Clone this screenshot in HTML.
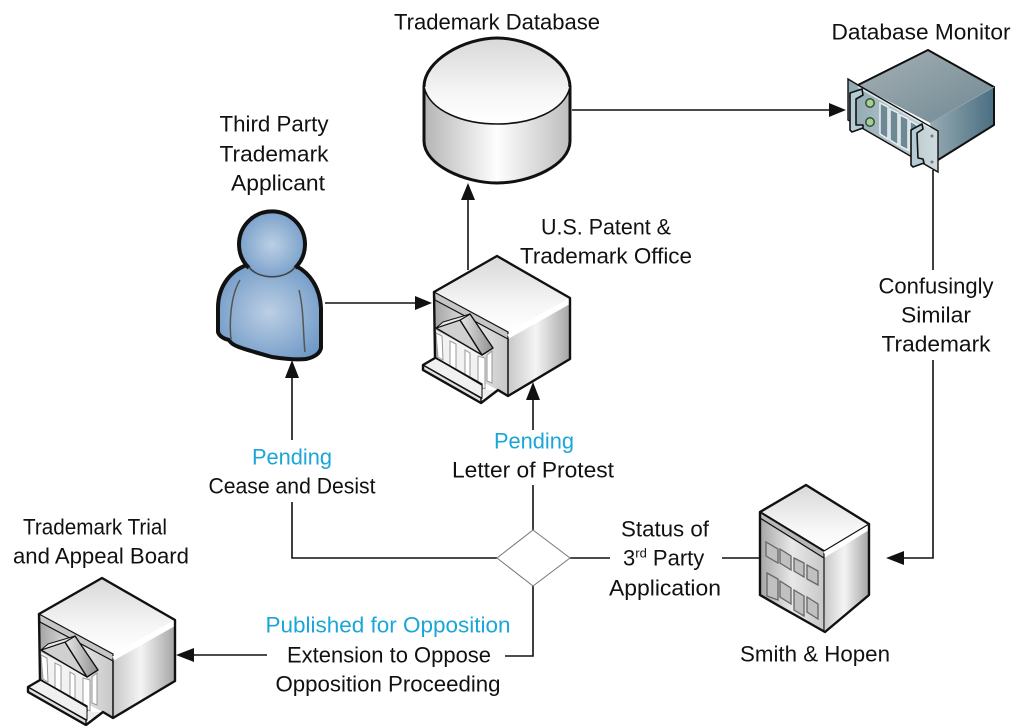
<!DOCTYPE html>
<html>
<head>
<meta charset="utf-8">
<style>
html,body{margin:0;padding:0;background:#fff;width:1024px;height:726px;overflow:hidden}
svg{display:block}
text{font-family:"Liberation Sans",sans-serif;font-size:22px;fill:#111;text-anchor:middle}
.c{fill:#1aa7d8}
</style>
</head>
<body>
<svg width="1024" height="726" viewBox="0 0 1024 726" xmlns="http://www.w3.org/2000/svg">
<defs>
<linearGradient id="top" x1="0" y1="0" x2="0" y2="1"><stop offset="0" stop-color="#d8d8d8"/><stop offset=".65" stop-color="#f6f6f6"/><stop offset="1" stop-color="#fff"/></linearGradient>
<linearGradient id="cyl" x1="0" y1="0" x2="1" y2="0"><stop offset="0" stop-color="#b4b4b4"/><stop offset=".5" stop-color="#fefefe"/><stop offset="1" stop-color="#bdbdbd"/></linearGradient>
<linearGradient id="side" x1="0" y1="0" x2="1" y2="0"><stop offset="0" stop-color="#c8c8c8"/><stop offset=".45" stop-color="#f4f4f4"/><stop offset="1" stop-color="#a4a4a4"/></linearGradient>
<linearGradient id="front" x1="0" y1="0" x2="1" y2="0"><stop offset="0" stop-color="#a6a6a6"/><stop offset=".5" stop-color="#e8e8e8"/><stop offset="1" stop-color="#c8c8c8"/></linearGradient>
<linearGradient id="roofR" x1="0" y1="0" x2="1" y2="0"><stop offset="0" stop-color="#e8e8e8"/><stop offset="1" stop-color="#8e8e8e"/></linearGradient>
<radialGradient id="blue" cx=".5" cy=".5" r=".62"><stop offset="0" stop-color="#bccfe4"/><stop offset="1" stop-color="#6c97c6"/></radialGradient>
<linearGradient id="srvTop" x1="0" y1="0" x2="1" y2="1"><stop offset="0" stop-color="#a6b1b4"/><stop offset="1" stop-color="#6f8894"/></linearGradient>
<linearGradient id="srvSide" x1="0" y1="0" x2="1" y2="0"><stop offset="0" stop-color="#9aadb4"/><stop offset="1" stop-color="#4a6e82"/></linearGradient>
<linearGradient id="srvFront" x1="0" y1="0" x2="1" y2="0"><stop offset="0" stop-color="#8fa7b0"/><stop offset="1" stop-color="#cfdbdf"/></linearGradient>
<g id="bank">
<path d="M497 256L570 298V359L508 396L498 390L481 403L423 370V365L435 358L434 292Z" fill="#fff"/>
<path d="M508 339L570 304V359L508 396Z" fill="url(#side)"/>
<path d="M435 300L508 339V396L498 390L435 358Z" fill="url(#front)"/>
<path d="M434 292L497 256L570 298L508 332Z" fill="url(#top)"/>
<path d="M434 292L508 332V339L435 300Z" fill="#c6c6c6" stroke="#111" stroke-width="1.2"/>
<path d="M508 336L570 302" stroke="#fff" stroke-width="3" fill="none"/>
<path d="M436 330L482 355L483 388L438 362Z" fill="#f2f2f2"/>
<path d="M436 333L438 357L443 360L442 336ZM450 341V367L456 370V344ZM465 350V376L470 379V353ZM478 356V386L485 389V358ZM487 355V381L492 383V351Z" fill="#fff" stroke="#999" stroke-width="1"/>
<path d="M436 358L482 384V390L435 362Z" fill="#ddd" stroke="#111" stroke-width="1.3"/>
<path d="M482 390L498 390L490 396L481 397Z" fill="#eee"/>
<path d="M423 365L435 358L482 384V398Z" fill="#f0f0f0" stroke="#111" stroke-width="1"/>
<path d="M423 365L481 398V403L423 370Z" fill="#e0e0e0" stroke="#111" stroke-width="1.5" stroke-linejoin="round"/>
<path d="M436 358L482 385" stroke="#111" stroke-width="1.5" fill="none"/>
<path d="M436 328L460 320L482 355Z" fill="#d0d0d0" stroke="#111" stroke-width="1.4" stroke-linejoin="round"/>
<path d="M460 320L470 314L493 348L482 355Z" fill="url(#roofR)" stroke="#111" stroke-width="1.4" stroke-linejoin="round"/>
<path d="M443 322L470 314L460 320L436 328Z" fill="#e8e8e8" stroke="#111" stroke-width="1"/>
<path d="M497 256L570 298V359L508 396L498 390L481 403L423 370V365L435 358L434 292Z" fill="none" stroke="#111" stroke-width="2.4" stroke-linejoin="round"/>
<path d="M508 339V396" fill="none" stroke="#111" stroke-width="1.5"/>
</g>
</defs>

<!-- connectors -->
<g stroke="#111" stroke-width="1.6" fill="none">
<path d="M572 110H840"/>
<path d="M933 170V270M933 360V558H900"/>
<path d="M325 303H420"/>
<path d="M468 270V195"/>
<path d="M292 375V440M292 502V558H497"/>
<path d="M533 395V430M533 485V530"/>
<path d="M570 558H610M722 558H760"/>
<path d="M533 586V656H505M267 655H190"/>
<path d="M533 530L570 558L533 586L497 558Z" fill="#fff" stroke="#777" stroke-width="1"/>
</g>
<g fill="#111">
<path d="M846 110L829 103V117Z"/>
<path d="M886 558L904 551V565Z"/>
<path d="M432 303L415 296V310Z"/>
<path d="M468 183L461 200H475Z"/>
<path d="M292 360L285 378H299Z"/>
<path d="M533 382L526 400H540Z"/>
<path d="M176 655L194 648V662Z"/>
</g>

<!-- cylinder -->
<path d="M424 87V141C424 165 465 183 497 183C530 183 570 165 570 141V87Z" fill="url(#cyl)" stroke="#111" stroke-width="3"/>
<path d="M424 87C430 112 465 124 497 124C530 124 564 112 570 87C570 60 530 38 497 38C465 38 424 60 424 87Z" fill="url(#top)"/>
<path d="M424 87C424 60 465 38 497 38C530 38 570 60 570 87" fill="none" stroke="#111" stroke-width="3"/>
<path d="M424 87C430 112 465 124 497 124C530 124 564 112 570 87" fill="none" stroke="#111" stroke-width="1.6"/>

<!-- server -->
<path d="M928 50L994 87V125L938 160L930 123Z" fill="url(#srvSide)"/>
<path d="M928 50L994 87L930 123L858 85Z" fill="url(#srvTop)"/>
<path d="M858 85L928 50L994 87V125L938 160" fill="none" stroke="#111" stroke-width="2"/>
<path d="M930 123L994 87" stroke="#90a4ac" stroke-width="1" fill="none"/>
<path d="M848 79L858 85L938 131V172L848 120Z" fill="url(#srvFront)" stroke="#111" stroke-width="1.4"/>
<path d="M858 87L930 128" stroke="#dde6e9" stroke-width="1.5" fill="none"/>
<circle cx="870" cy="103" r="4.2" fill="#a5d092" stroke="#33503a" stroke-width="1.5"/>
<circle cx="870" cy="122" r="4.2" fill="#a5d092" stroke="#33503a" stroke-width="1.5"/>
<g fill="#6e8894" stroke="#e8f0f3" stroke-width="1.5">
<path d="M880 103L888 107V139L880 134Z"/><path d="M890 109L898 113V145L890 140Z"/><path d="M900 115L908 119V150L900 146Z"/><path d="M910 121L917 125V154L910 151Z"/>
</g>
<circle cx="932" cy="136" r="1.5" fill="#778"/><circle cx="932" cy="162" r="1.5" fill="#778"/>
<path d="M850 93L862 89L863 95L856 99V125L863 125V128L852 132L850 130Z" fill="#b5cbd3" stroke="#111" stroke-width="1.6" stroke-linejoin="round"/>
<path d="M911 130L922 124L923 129L917 133L918 158L923 159L924 163L913 167L911 165Z" fill="#b5cbd3" stroke="#111" stroke-width="1.6" stroke-linejoin="round"/>

<!-- person -->
<path d="M247 265C232 270 218 285 218 308V332C219 336 224 339 229 340C232 346 240 348 272 357C285 359 297 360 306 359C315 357 320 353 321 348V308C320 288 310 273 296 266Z" fill="url(#blue)" stroke="#111" stroke-width="4" stroke-linejoin="round"/>
<circle cx="272" cy="245" r="33" fill="url(#blue)"/>
<path d="M249 268A33 33 0 1 1 295 268" fill="none" stroke="#111" stroke-width="4"/>
<path d="M249 267C258 280 286 280 295 267" fill="none" stroke="#444" stroke-width="1.6"/>
<path d="M240 280C231 295 229 320 231 340M299 290C304 310 303 335 305 352" fill="none" stroke="#555" stroke-width="1.5"/>

<!-- office building -->
<path d="M824 558L869 530V595L825 632Z" fill="url(#side)"/>
<path d="M760 516L824 556V632L760 595Z" fill="url(#front)"/>
<path d="M806 485L869 524L824 551L760 512Z" fill="url(#top)"/>
<path d="M760 512L824 551V558L760 518Z" fill="#b8b8b8" stroke="#111" stroke-width="1.2"/>
<path d="M824 553L869 526" stroke="#fff" stroke-width="3" fill="none"/>
<g fill="#c0c0c0" stroke="#666" stroke-width="1.3">
<path d="M766 542L778 549V563L766 556Z"/><path d="M780 549L791 556V570L780 563Z"/><path d="M794 558L804 563V577L794 571Z"/><path d="M807 565L818 571V585L807 579Z"/>
<path d="M767 573L778 579V600L767 596Z"/><path d="M780 581L791 588V604L780 597Z"/><path d="M794 590L804 596V616L794 610Z"/><path d="M807 597L818 604V619L807 612Z"/>
</g>
<path d="M806 485L869 524V595L825 632L795 615L779 606L760 595V512Z" fill="none" stroke="#111" stroke-width="2.4" stroke-linejoin="round"/>
<path d="M824 551L869 524M824 558V632" fill="none" stroke="#111" stroke-width="1.2"/>
<path d="M760 512L824 551" fill="none" stroke="#111" stroke-width="2"/>

<!-- banks -->
<use href="#bank"/>
<use href="#bank" x="-395" y="322"/>

<!-- labels -->
<g transform="translate(0 0.5)">
<text x="497" y="29" textLength="206" lengthAdjust="spacingAndGlyphs">Trademark Database</text>
<text x="921" y="39" textLength="179" lengthAdjust="spacingAndGlyphs">Database Monitor</text>
<text x="274" y="131" textLength="109" lengthAdjust="spacingAndGlyphs">Third Party</text>
<text x="274" y="161" textLength="109" lengthAdjust="spacingAndGlyphs">Trademark</text>
<text x="278" y="190" textLength="94" lengthAdjust="spacingAndGlyphs">Applicant</text>
<text x="606" y="234" textLength="130" lengthAdjust="spacingAndGlyphs">U.S. Patent &amp;</text>
<text x="606" y="263" textLength="172" lengthAdjust="spacingAndGlyphs">Trademark Office</text>
<text x="936" y="293" textLength="115" lengthAdjust="spacingAndGlyphs">Confusingly</text>
<text x="936" y="322" textLength="70" lengthAdjust="spacingAndGlyphs">Similar</text>
<text x="936" y="351" textLength="109" lengthAdjust="spacingAndGlyphs">Trademark</text>
<text class="c" x="292" y="464" textLength="80" lengthAdjust="spacingAndGlyphs">Pending</text>
<text x="292" y="493" textLength="167" lengthAdjust="spacingAndGlyphs">Cease and Desist</text>
<text class="c" x="534" y="448" textLength="80" lengthAdjust="spacingAndGlyphs">Pending</text>
<text x="533" y="477" textLength="162" lengthAdjust="spacingAndGlyphs">Letter of Protest</text>
<text x="665" y="536" textLength="88" lengthAdjust="spacingAndGlyphs">Status of</text>
<text x="623" y="565" style="text-anchor:start">3<tspan dy="-8" font-size="13">rd</tspan><tspan dy="8" font-size="22"> Party</tspan></text>
<text x="665" y="595" textLength="112" lengthAdjust="spacingAndGlyphs">Application</text>
<text x="95" y="534" textLength="144" lengthAdjust="spacingAndGlyphs">Trademark Trial</text>
<text x="101" y="563" textLength="176" lengthAdjust="spacingAndGlyphs">and Appeal Board</text>
<text class="c" x="388" y="632" textLength="245" lengthAdjust="spacingAndGlyphs">Published for Opposition</text>
<text x="389" y="662" textLength="204" lengthAdjust="spacingAndGlyphs">Extension to Oppose</text>
<text x="388" y="691" textLength="225" lengthAdjust="spacingAndGlyphs">Opposition Proceeding</text>
<text x="815" y="661" textLength="150" lengthAdjust="spacingAndGlyphs">Smith &amp; Hopen</text>
</g>
</svg>
</body>
</html>
